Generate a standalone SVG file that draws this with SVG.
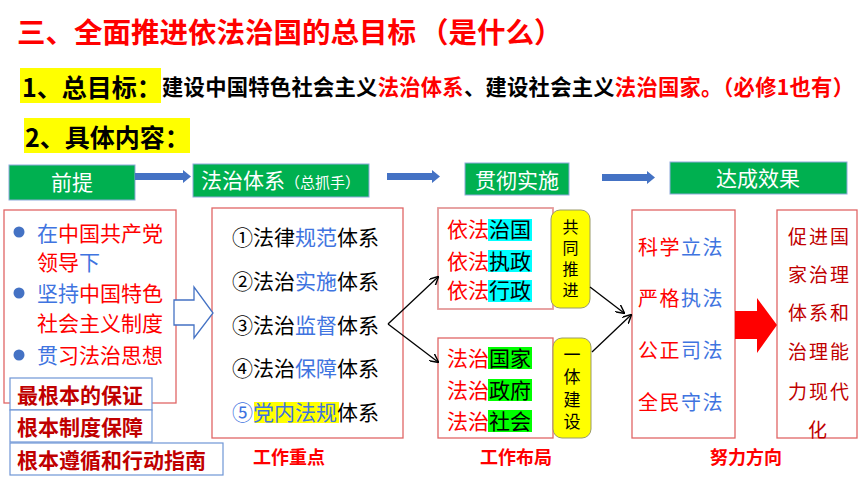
<svg xmlns="http://www.w3.org/2000/svg" width="860" height="484" viewBox="0 0 860 484">
<defs>
<style>
text{font-family:"Noto Sans CJK SC","Liberation Sans",sans-serif;}
.b{font-weight:bold;}
.red{fill:#FF0000;}
.blk{fill:#000000;}
.blu{fill:#3F74E0;}
.dred{fill:#C00000;}
.wht{fill:#FFFFFF;}
.hdr{fill:#00B050;stroke:#8EA9DB;stroke-width:1;}
.rbox{fill:#FFFFFF;stroke:#E06666;stroke-width:1.3;}
.pbox{fill:#FFFFFF;stroke:#E59A9A;stroke-width:1.8;}
.bbox{fill:#FFFFFF;stroke:#6F96D6;stroke-width:1.2;}
.ybox{fill:#FFFF00;stroke:#9A9A6A;stroke-width:1;}
.vt{writing-mode:vertical-rl;text-anchor:middle;fill:#000000;}
.harr{fill:#4472C4;}
.conn{stroke:#000000;stroke-width:1.3;fill:none;marker-end:url(#ah);}
.lbl{font-size:18px;font-weight:bold;fill:#FF0000;}
</style>
<marker id="ah" viewBox="0 0 10 10" refX="9" refY="5" markerWidth="9" markerHeight="9" markerUnits="userSpaceOnUse" orient="auto">
<path d="M0,0 L10,5 L0,10" fill="none" stroke="#000000" stroke-width="1.6"/>
</marker>
</defs>
<rect width="860" height="484" fill="#FFFFFF"/>

<g id="title">
<text x="17" y="43" class="b red" font-size="28.5"><tspan>三、全面推进依法治国的总目标</tspan><tspan dx="4">（是什么）</tspan></text>
</g>

<g id="goal">
<rect x="20" y="68" width="141" height="35" fill="#FFFF00"/>
<text x="22" y="96.5" class="b blk" font-size="25">1、总目标：</text>
<text x="162" y="95" class="b" font-size="21.3" textLength="692" lengthAdjust="spacing"><tspan class="blk">建设中国特色社会主义</tspan><tspan class="red">法治体系</tspan><tspan class="blk">、建设社会主义</tspan><tspan class="red">法治国家。（必修1也有）</tspan></text>
</g>

<g id="content-heading">
<rect x="24" y="118" width="166" height="35" fill="#FFFF00"/>
<text x="25" y="146.5" class="b blk" font-size="25">2、具体内容：</text>
</g>

<g id="hdr-premise">
<rect x="9" y="165" width="126" height="35" class="hdr"/>
<text x="72" y="190" class="wht" font-size="21" text-anchor="middle">前提</text>
</g>
<g id="hdr-system">
<rect x="193" y="164" width="176" height="33" class="hdr"/>
<text x="201" y="188" class="wht" font-size="21">法治体系<tspan font-size="15">（总抓手）</tspan></text>
</g>
<g id="hdr-implement">
<rect x="465" y="163" width="104" height="32" class="hdr"/>
<text x="517" y="188" class="wht" font-size="21" text-anchor="middle">贯彻实施</text>
</g>
<g id="hdr-effect">
<rect x="670" y="162" width="177" height="32" class="hdr"/>
<text x="758" y="186" class="wht" font-size="21" text-anchor="middle">达成效果</text>
</g>

<g id="premise">
<rect x="4" y="210" width="172" height="193" class="rbox"/>
<circle cx="19" cy="232" r="5.5" fill="#4472C4"/>
<circle cx="19" cy="293" r="5.5" fill="#4472C4"/>
<circle cx="19" cy="355" r="5.5" fill="#4472C4"/>
<text x="37" y="241" font-size="21"><tspan class="blu">在</tspan><tspan class="red">中国共产党</tspan></text>
<text x="37" y="270" font-size="21"><tspan class="red">领导</tspan><tspan class="blu">下</tspan></text>
<text x="37" y="301" font-size="21"><tspan class="blu">坚持</tspan><tspan class="red">中国特色</tspan></text>
<text x="37" y="331" font-size="21" class="red">社会主义制度</text>
<text x="37" y="363" font-size="21"><tspan class="blu">贯</tspan><tspan class="red">习法治思想</tspan></text>
</g>

<g id="premise-notes">
<rect x="10" y="378" width="142" height="32" class="bbox"/>
<text x="17" y="403" class="b dred" font-size="21">最根本的保证</text>
<rect x="10" y="410" width="142" height="32" class="bbox"/>
<text x="17" y="435" class="b dred" font-size="21">根本制度保障</text>
<rect x="10" y="443" width="213" height="32" class="bbox"/>
<text x="17" y="468" class="b dred" font-size="21">根本遵循和行动指南</text>
</g>

<g id="system">
<rect x="212" y="208" width="191" height="230" class="rbox"/>
<rect x="254" y="402" width="85" height="21" fill="#FFFF00"/>
<text x="232" y="245" font-size="21" class="blk">①法律<tspan class="blu">规范</tspan>体系</text>
<text x="232" y="289" font-size="21" class="blk">②法治<tspan class="blu">实施</tspan>体系</text>
<text x="232" y="333" font-size="21" class="blk">③法治<tspan class="blu">监督</tspan>体系</text>
<text x="232" y="376" font-size="21" class="blk">④法治<tspan class="blu">保障</tspan>体系</text>
<text x="232" y="420" font-size="21" class="blk"><tspan class="blu">⑤党内法规</tspan>体系</text>
<text x="253" y="464" class="lbl">工作重点</text>
</g>

<g id="rule-by-law">
<rect x="438" y="208" width="115" height="101" class="pbox"/>
<rect x="488" y="219" width="44" height="22" fill="#00FFFF"/>
<rect x="488" y="250" width="44" height="22" fill="#00FFFF"/>
<rect x="488" y="280" width="44" height="22" fill="#00FFFF"/>
<text x="447" y="237" font-size="21"><tspan class="red">依法</tspan><tspan class="blk">治国</tspan></text>
<text x="447" y="269" font-size="21"><tspan class="red">依法</tspan><tspan class="blk">执政</tspan></text>
<text x="447" y="298" font-size="21"><tspan class="red">依法</tspan><tspan class="blk">行政</tspan></text>
</g>

<g id="joint">
<rect x="551" y="210" width="39" height="98" rx="9" class="ybox"/>
<text x="570.5" y="261" font-size="16" letter-spacing="5" class="vt">共同推进</text>
</g>

<g id="rule-of-law">
<rect x="438" y="338" width="115" height="100" class="rbox"/>
<rect x="488" y="347" width="44" height="22" fill="#00FF00"/>
<rect x="488" y="379" width="44" height="22" fill="#00FF00"/>
<rect x="488" y="410" width="44" height="22" fill="#00FF00"/>
<text x="447" y="366" font-size="21"><tspan class="red">法治</tspan><tspan class="blk">国家</tspan></text>
<text x="447" y="398" font-size="21"><tspan class="red">法治</tspan><tspan class="blk">政府</tspan></text>
<text x="447" y="429" font-size="21"><tspan class="red">法治</tspan><tspan class="blk">社会</tspan></text>
<text x="480" y="464" class="lbl">工作布局</text>
</g>

<g id="integrated">
<rect x="553" y="338" width="38" height="100" rx="9" class="ybox"/>
<text x="572" y="391" font-size="17" letter-spacing="5.5" class="vt">一体建设</text>
</g>

<g id="direction">
<rect x="632" y="210" width="103" height="228" class="rbox"/>
<text x="638" y="255" font-size="20" letter-spacing="1.5"><tspan class="red">科学</tspan><tspan class="blu">立法</tspan></text>
<text x="638" y="306" font-size="20" letter-spacing="1.5"><tspan class="red">严格</tspan><tspan class="blu">执法</tspan></text>
<text x="638" y="358" font-size="20" letter-spacing="1.5"><tspan class="red">公正</tspan><tspan class="blu">司法</tspan></text>
<text x="638" y="410" font-size="20" letter-spacing="1.5"><tspan class="red">全民</tspan><tspan class="blu">守法</tspan></text>
<text x="710" y="464" class="lbl">努力方向</text>
</g>

<g id="result">
<rect x="777" y="210" width="80" height="228" class="rbox"/>
<text x="788" y="244" font-size="19" letter-spacing="2" class="dred">促进国</text>
<text x="788" y="282" font-size="19" letter-spacing="2" class="dred">家治理</text>
<text x="788" y="320" font-size="19" letter-spacing="2" class="dred">体系和</text>
<text x="788" y="359" font-size="19" letter-spacing="2" class="dred">治理能</text>
<text x="788" y="399" font-size="19" letter-spacing="2" class="dred">力现代</text>
<text x="808" y="437" font-size="19" class="dred">化</text>
</g>

<g id="connectors">
<polygon class="harr" points="135,173 183,173 183,170 191,176.5 183,183 183,180 135,180"/>
<polygon class="harr" points="387,173 432,173 432,170 440,176.5 432,183 432,180 387,180"/>
<polygon class="harr" points="602,174 647,174 647,171 655,177.5 647,184 647,181 602,181"/>
<polygon points="174,300 194,300 194,287 213,313 194,338 194,325 174,325" fill="#FFFFFF" stroke="#4472C4" stroke-width="1.3"/>
<polygon points="735,311 757,311 757,298 777,325 757,353 757,339 735,339" fill="#FF0000"/>
<path class="conn" d="M388,324 L438,277"/>
<path class="conn" d="M388,324 L438,362"/>
<path class="conn" d="M590,287 L624,313"/>
<path class="conn" d="M592,352 L631,315"/>
</g>
</svg>
